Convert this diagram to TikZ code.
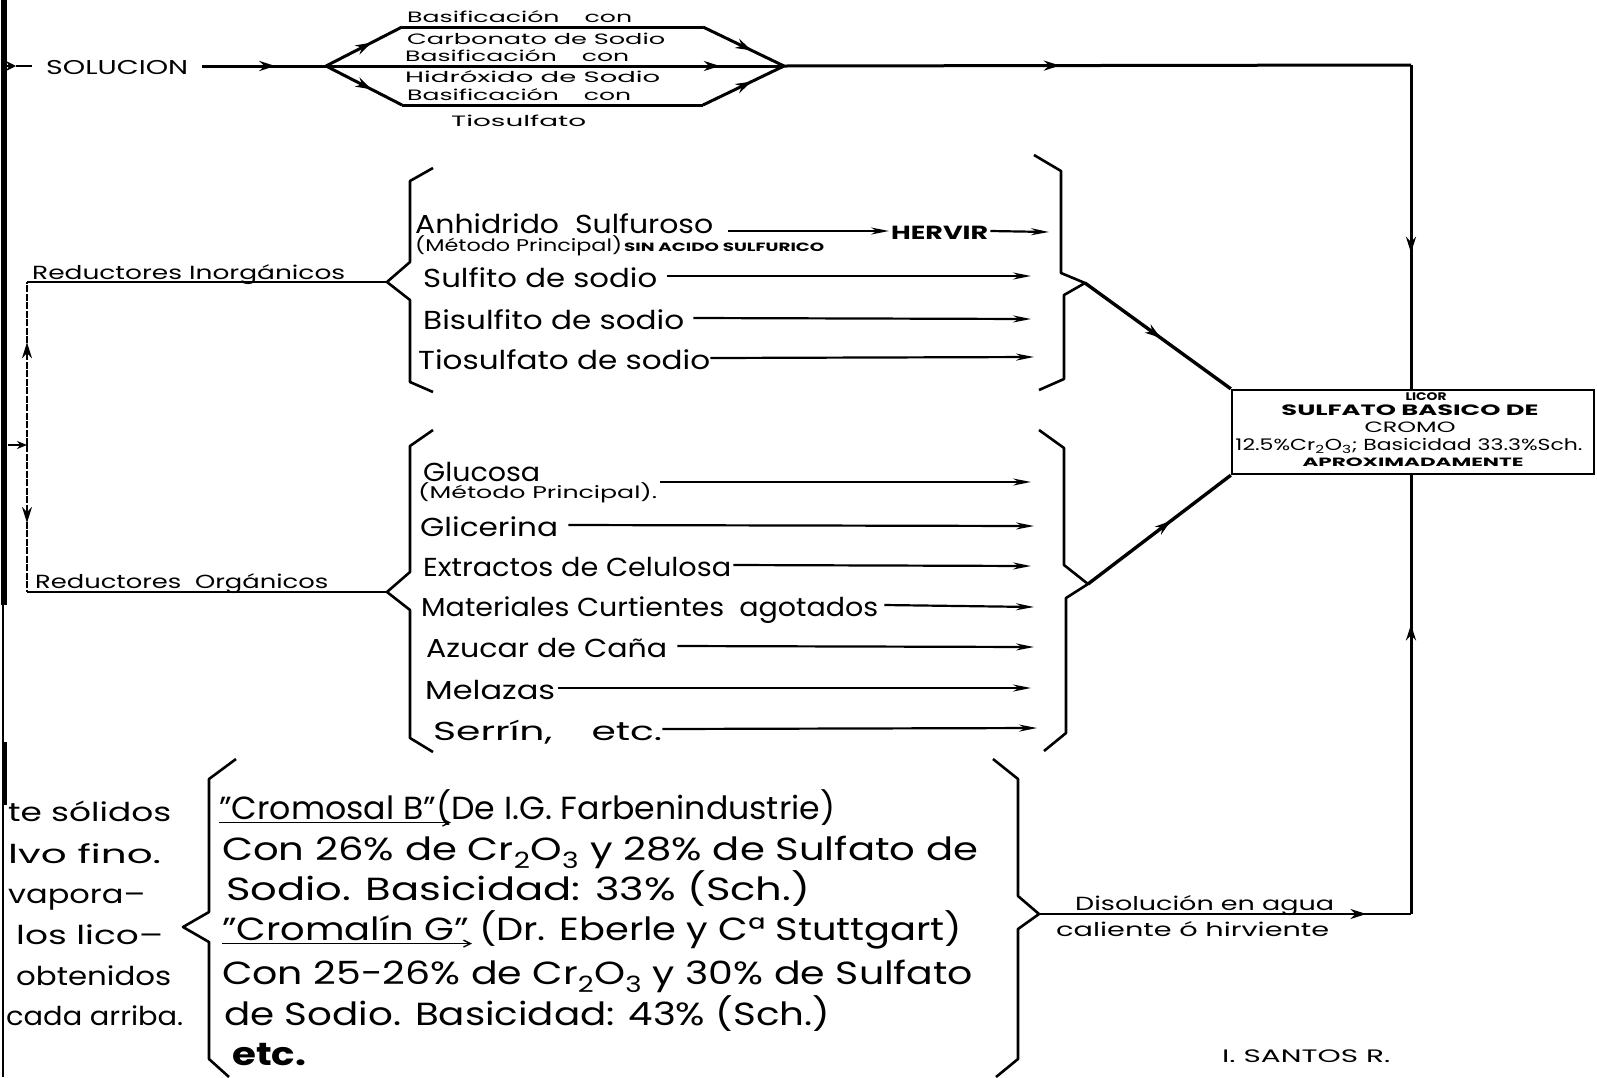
\documentclass[tikz,border=0pt]{standalone}
\usepackage{fontspec}
\setmainfont{Poppins}
\usepackage{graphicx}
\usetikzlibrary{arrows.meta,decorations.markings,calc}
\newcommand\wfit[2]{\resizebox{#1pt}{\height}{#2}}
\tikzset{
 fs/.style={inner sep=0pt, anchor=west, font=\fontsize{#1}{#1}\selectfont, text height={1.0*#1pt}, text depth={0.15*#1pt}},
 conn/.style={line width=3pt, line join=round},
 itemarr/.style={line width=2.2pt, -{Stealth[length=18pt,width=7pt]}},
 brace/.style={line width=2.6pt, line join=round},
 midarr/.style={postaction={decorate},decoration={markings,mark=at position #1 with {\arrow{Stealth[length=16pt,width=10pt]}}}},
 uarr/.style={line width=1.4pt, -{Straight Barb[length=7pt,width=7pt]}},
}
\begin{document}
\begin{tikzpicture}[x=1pt,y=-1pt]
\fill[white] (0,0) rectangle (1597,1077);
\useasboundingbox (0,0) rectangle (1597,1077);

% left border
\draw[line width=6.5pt] (4,0) -- (4,605);
\draw[line width=2.5pt] (3,605) -- (3,1077);
\draw[line width=5pt] (4,742) -- (4,805);

% ---------- top: SOLUCION ----------
\coordinate (s0) at (6,66);
\coordinate (s2) at (16,66);
\coordinate (s1) at (32,66);
\draw[line width=2.2pt, -{Stealth[length=10pt,width=10pt]}] (s0) -- (s2);
\draw[line width=2.4pt] (s2) -- (s1);
\node[fs=20] (sol) at (46,66) {\wfit{142}{SOLUCION}};
\coordinate (b0) at (326,66);
\coordinate (b1) at (784,66);
\coordinate (u1) at (402,27); \coordinate (u2) at (703,27);
\coordinate (l1) at (402,105); \coordinate (l2) at (703,105);
\draw[conn, midarr=0.59] ([xshift=14pt]sol.east) -- (b0);
\draw[conn, midarr=0.6] (b0) -- (u1);
\draw[conn] (u1) -- (u2);
\draw[conn, midarr=0.6] (u2) -- (b1);
\draw[conn, midarr=0.86] (b0) -- (b1);
\draw[conn, midarr=0.6] (b0) -- (l1);
\draw[conn] (l1) -- (l2);
\draw[conn, midarr=0.6] (l2) -- (b1);
\node[fs=15] (bas1) at (407,16) {\wfit{225}{Basificación\quad con}};
\node[fs=15] (car) at (407,38) {\wfit{258}{Carbonato de Sodio}};
\node[fs=15] (bas2) at (405,55) {\wfit{224}{Basificación\quad con}};
\node[fs=15] (hid) at (405,76) {\wfit{255}{Hidróxido de Sodio}};
\node[fs=15] (bas3) at (407,94) {\wfit{224}{Basificación\quad con}};
\node[fs=15] (tio) at (451,120) {\wfit{135}{Tiosulfato}};

% box
\node[draw, line width=2.4pt, minimum width=362pt, minimum height=84pt, inner sep=0pt] (box) at (1413,432) {};
\node[fs=11, anchor=center] (licor) at (1426,396) {\bfseries\wfit{41}{LICOR}};
\node[fs=15, anchor=center] (sulf) at (1410,409) {\bfseries\wfit{257}{SULFATO BASICO DE}};
\node[fs=15, anchor=center] (cromo) at (1410,426) {\wfit{91}{CROMO}};
\node[fs=16, anchor=center] (pct) at (1409,444) {\wfit{347}{12.5\%Cr\textsubscript{2}O\textsubscript{3}; Basicidad 33.3\%Sch.}};
\node[fs=12, anchor=center] (aprox) at (1413,461) {\bfseries\wfit{221}{APROXIMADAMENTE}};

\coordinate (tr) at (1411,65);
\draw[conn, midarr=0.44] (b1) -- (tr);
\draw[conn, midarr=0.58] (tr) -- (box.north -| tr);

% ---------- left reductores ----------
\coordinate (lb) at (8,445);
\coordinate (lj) at (27,445);
\coordinate (li) at (27,282);
\coordinate (lo) at (27,592);
\coordinate (bi) at (387,282);
\coordinate (bo) at (387,592);
\draw[line width=1.8pt, -{Stealth[length=10pt,width=8pt]}] (lb) -- (lj);
\draw[line width=1.5pt, dash pattern=on 7pt off 1.5pt, midarr=0.63] (lj) -- (li);
\draw[line width=1.5pt, dash pattern=on 7pt off 1.5pt, midarr=0.53] (lj) -- (lo);
\draw[conn, line width=2.4pt] (li) -- (bi);
\draw[conn, line width=2.4pt] (lo) -- (bo);
\node[fs=19] (ri) at (32,271) {\wfit{313}{Reductores Inorgánicos}};
\node[fs=19] (ro) at (35,580) {\wfit{293}{Reductores\ \ Orgánicos}};

% ---------- inorganic ----------
\draw[brace] (433,168) -- (410,181) -- (410,262) -- (bi) -- (410,300) -- (410,382) -- (433,392);
\node[fs=26] (anh) at (415,222) {\wfit{298}{Anhidrido\ \ Sulfuroso}};
\node[fs=17] (met1) at (415,244) {\wfit{207}{(Método Principal)}};
\node[fs=12] (sin) at (624,246) {\bfseries\wfit{200}{SIN ACIDO SULFURICO}};
\node[fs=19] (hervir) at (891,231) {\bfseries\wfit{97}{HERVIR}};
\coordinate (e0) at (1049,232);
\draw[itemarr] ([xshift=15pt]hervir.west -| anh.east) -- ([xshift=-2pt]hervir.west);
\draw[itemarr] ([xshift=2pt]hervir.east) -- (e0);
\node[fs=26] (sulfito) at (423,276) {\wfit{234}{Sulfito de sodio}};
\node[fs=26] (bisul) at (423,318) {\wfit{261}{Bisulfito de sodio}};
\node[fs=26] (tios) at (418,358) {\wfit{292}{Tiosulfato de sodio}};
\coordinate (e1) at (1031,276);
\coordinate (e2) at (1031,319);
\coordinate (e3) at (1034,357);
\draw[itemarr] ([xshift=10pt]sulfito.east) -- (e1);
\draw[itemarr] ([xshift=9pt]bisul.east) -- (e2);
\draw[itemarr] (tios.east) -- (e3);
\coordinate (ti) at (1085,283);
\draw[brace] (1034,155) -- (1061,171) -- (1061,273) -- (ti) -- (1064,295) -- (1064,379) -- (1039,390);
\draw[conn, line width=3.4pt, midarr=0.52] (ti) -- (box.north west);

% ---------- organic ----------
\draw[brace] (433,430) -- (410,446) -- (410,572) -- (bo) -- (410,610) -- (410,738) -- (433,752);
\node[fs=26] (glu) at (423,470) {\wfit{117}{Glucosa}};
\node[fs=17] (met2) at (418,491) {\wfit{239}{(Método Principal).}};
\node[fs=26] (gli) at (420,525) {\wfit{138}{Glicerina}};
\node[fs=26] (ext) at (423,565) {\wfit{308}{Extractos de Celulosa}};
\node[fs=26] (mat) at (421,605) {\wfit{457}{Materiales Curtientes\ \ agotados}};
\node[fs=26] (azu) at (426,646) {\wfit{241}{Azucar de Caña}};
\node[fs=26] (mel) at (425,688) {\wfit{130}{Melazas}};
\node[fs=26] (ser) at (433,729) {\wfit{229}{Serrín,\quad etc.}};
\coordinate (o1) at (1031,482);
\coordinate (o2) at (1034,526);
\coordinate (o3) at (1031,566);
\coordinate (o4) at (1034,607);
\coordinate (o5) at (1034,647);
\coordinate (o6) at (1031,688);
\coordinate (o7) at (1037,728);
\draw[itemarr] ([xshift=3pt]met2.east |- o1) -- (o1);
\draw[itemarr] ([xshift=10pt]gli.east) -- (o2);
\draw[itemarr] ([xshift=2pt]ext.east) -- (o3);
\draw[itemarr] ([xshift=6pt]mat.east) -- (o4);
\draw[itemarr] ([xshift=10pt]azu.east) -- (o5);
\draw[itemarr] ([xshift=3pt]mel.east) -- (o6);
\draw[itemarr] (ser.east) -- (o7);
\coordinate (to) at (1088,584);
\draw[brace] (1039,430) -- (1064,448) -- (1064,565) -- (to) -- (1066,598) -- (1066,733) -- (1044,751);
\draw[conn, line width=3.4pt, midarr=0.58] (to) -- (box.south west);

% ---------- bottom ----------
\coordinate (bl) at (183,927);
\draw[brace] (236,759) -- (209,779) -- (209,912) -- (bl) -- (209,942) -- (209,1059) -- (229,1077);
\coordinate (bt) at (1039,914);
\draw[brace] (993,759) -- (1018,779) -- (1018,896) -- (bt) -- (1018,929) -- (1018,1059) -- (996,1077);
\coordinate (br) at (1411,914);
\draw[conn, line width=2.4pt, midarr=0.88] (bt) -- (br);
\draw[conn, midarr=0.66] (br) -- (box.south -| br);
\node[fs=19] (dis1) at (1075,902) {\wfit{259}{Disolución en agua}};
\node[fs=19] (dis2) at (1056,928) {\wfit{273}{caliente ó hirviente}};

\node[fs=32] (bl1) at (219,806) {\wfit{616}{"Cromosal B"(De I.G. Farbenindustrie)}};
\node[fs=32] (bl2) at (222,847) {\wfit{756}{Con 26\% de Cr\textsubscript{2}O\textsubscript{3} y 28\% de Sulfato de}};
\node[fs=32] (bl3) at (226,887) {\wfit{584}{Sodio. Basicidad: 33\% (Sch.)}};
\node[fs=32] (bl4) at (222,927) {\wfit{740}{"Cromalín G" (Dr. Eberle y Cª Stuttgart)}};
\node[fs=32] (bl5) at (222,971) {\wfit{751}{Con 25-26\% de Cr\textsubscript{2}O\textsubscript{3} y 30\% de Sulfato}};
\node[fs=32] (bl6) at (224,1012) {\wfit{606}{de Sodio. Basicidad: 43\% (Sch.)}};
\node[fs=32] (bl7) at (232,1052) {\bfseries\wfit{74}{etc.}};
\draw[uarr] ([yshift=2pt]bl1.south west) -- ++(232,0);
\draw[uarr] ([yshift=2pt]bl4.south west) -- ++(250,0);

\node[fs=26] (c1) at (8,810) {\wfit{163}{te sólidos}};
\node[fs=26] (c2) at (8,852) {\wfit{153}{lvo fino.}};
\node[fs=26] (c3) at (8,892) {\wfit{137}{vapora–}};
\node[fs=26] (c4) at (16,933) {\wfit{147}{los lico–}};
\node[fs=26] (c5) at (16,974) {\wfit{155}{obtenidos}};
\node[fs=26] (c6) at (6,1014) {\wfit{177}{cada arriba.}};

\node[fs=18] (santos) at (1222,1055) {\wfit{168}{I. SANTOS R.}};
\end{tikzpicture}
\end{document}
